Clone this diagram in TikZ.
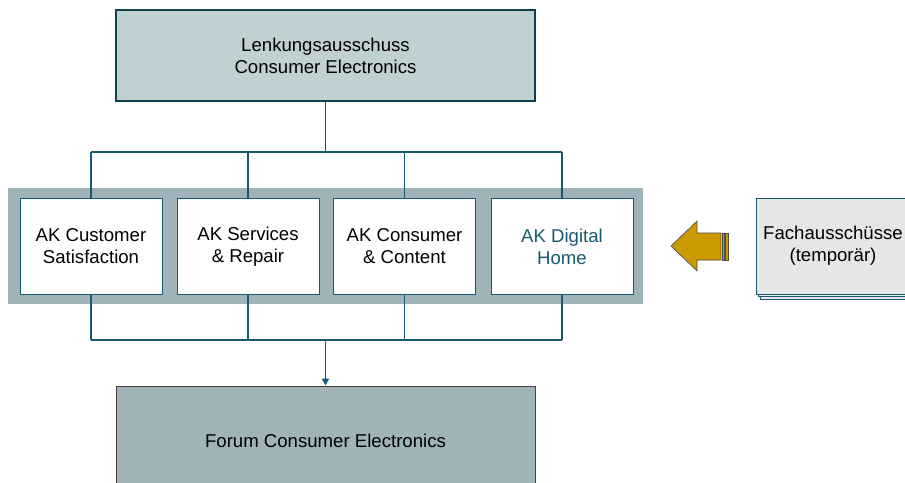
\documentclass[tikz,border=0pt]{standalone}
\usepackage{fontspec}
\setmainfont{Liberation Sans}
\usetikzlibrary{arrows.meta}
\definecolor{linie}{RGB}{24,88,112}
\definecolor{hellblau}{RGB}{193,208,210}
\definecolor{graublau}{RGB}{159,179,184}
\definecolor{gold}{RGB}{204,153,0}
\definecolor{hellgrau}{RGB}{228,230,232}
\begin{document}
\begin{tikzpicture}[x=1pt, y=-1pt,
    box/.style={draw=linie, line width=1pt, fill=white, minimum width=142pt, minimum height=96pt, align=center, inner sep=0pt, font=\fontsize{18.6}{22}\selectfont},
    conn/.style={draw=linie, line width=1.3pt}]
    \useasboundingbox (0,0) rectangle (905,482);
    % band behind the working groups
    \fill[graublau] (8,188) rectangle (643,304);
    \node[box, fill=hellblau, draw=linie!70!black, line width=1.2pt, minimum width=419pt, minimum height=91pt] (lenkung) at (325.5,55.5) {Lenkungsausschuss\\Consumer Electronics};
    \node[box] (ak1) at (91,246.5) {AK Customer\\Satisfaction};
    \node[box] (ak2) at (248,246.5) {AK Services\\\& Repair};
    \node[box] (ak3) at (404.5,246.5) {AK Consumer\\\& Content};
    \node[box, text=linie] (ak4) at (562,246.5) {AK Digital\\Home};
    \node[box, fill=graublau, draw=black!75, minimum width=419pt, minimum height=110pt] (forum) at (325.5,441) {Forum Consumer Electronics};
    % stacked sheets
    \foreach \d in {4,2} {
        \draw[draw=linie, line width=0.8pt, fill=hellgrau] (756+\d,198+1.25*\d) rectangle (910+\d,294+1.25*\d);
    }
    \node[box, fill=hellgrau, minimum width=154pt] (fach) at (833,246) {Fachausschüsse\\(temporär)};
    % connectors
    \coordinate (oben) at (325.5,152);
    \coordinate (unten) at (325.5,340);
    \draw[conn, line width=1.8pt] (lenkung.south) -- (oben);
    \draw[conn] (ak1 |- oben) -- (ak4 |- oben);
    \draw[conn] (ak1 |- unten) -- (ak4 |- unten);
    \foreach \n in {ak1, ak2, ak3, ak4} {
        \draw[conn] (\n |- oben) -- (\n.north);
        \draw[conn] (\n.south) -- (\n |- unten);
    }
    \draw[conn, line width=1.8pt, -{Triangle[width=7pt, length=7pt]}] (unten) -- (forum.north);
    % gold arrow
    \draw[fill=gold, draw=black!70, line width=0.6pt] (671,246) -- (697,221) -- (697,233) -- (721,233) -- (721,260) -- (697,260) -- (697,271) -- cycle;
    \foreach \s in {722,725.5} {
        \draw[fill=gold, draw=black!70, line width=0.5pt] (\s,233) rectangle (\s+2.5,260);
    }
\end{tikzpicture}
\end{document}
